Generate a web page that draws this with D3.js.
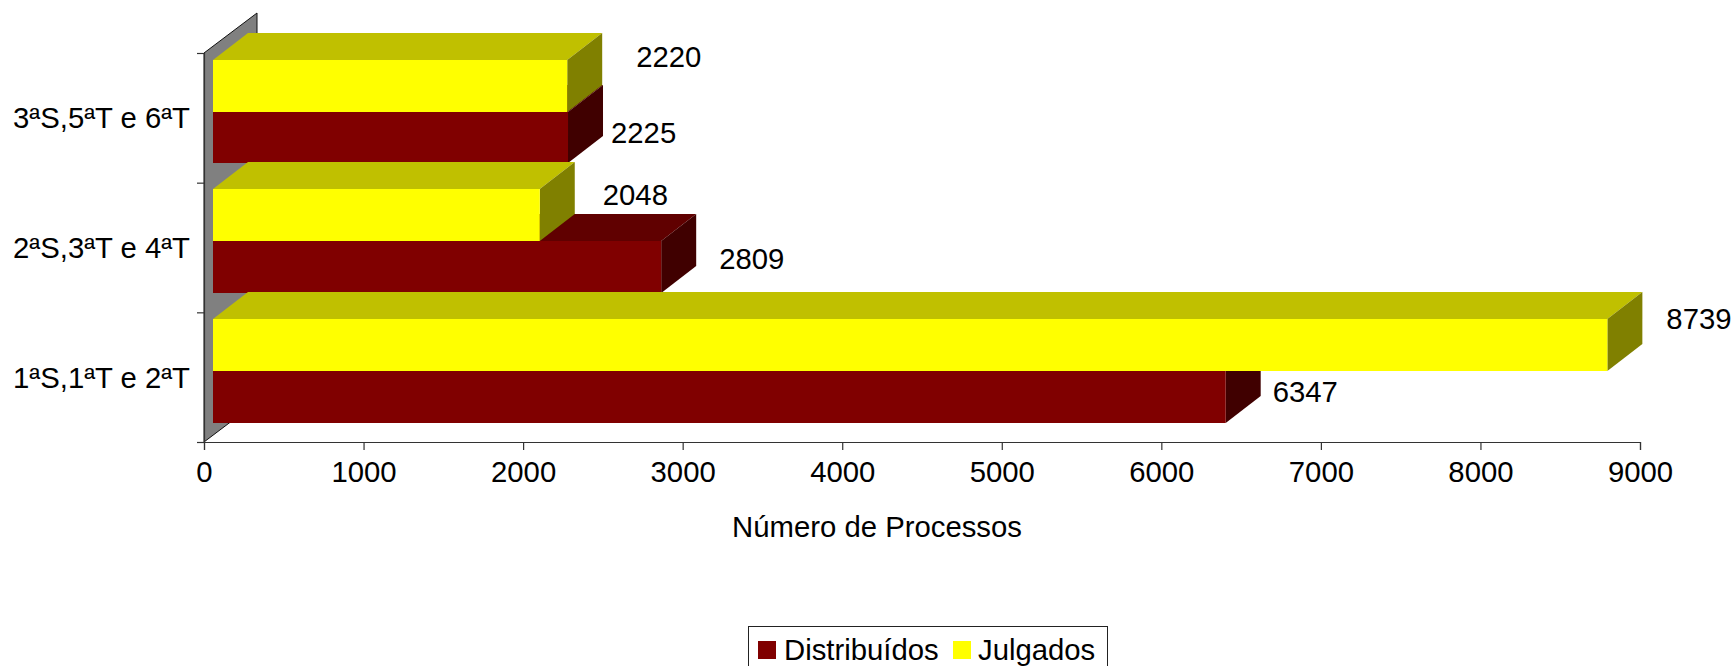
<!DOCTYPE html>
<html>
<head>
<meta charset="utf-8">
<script src="https://cdnjs.cloudflare.com/ajax/libs/d3/7.8.5/d3.min.js"></script>
<style>
  html, body { margin: 0; padding: 0; background: #fff; overflow: hidden; }
  text { font-family: "Liberation Sans", Arial, sans-serif; fill: #000; }
</style>
</head>
<body>
<div id="chart"></div>
<script>
// bottom to top, same as the picture
var categories = ["1ªS,1ªT e 2ªT", "2ªS,3ªT e 4ªT", "3ªS,5ªT e 6ªT"];
var seriesNames = ["Distribuídos", "Julgados"];
var distribuidos = [6347, 2809, 2225];
var julgados = [8739, 2048, 2220];
var xTicks = [0, 1000, 2000, 3000, 4000, 5000, 6000, 7000, 8000, 9000];

// the data labels are hand placed in the original, offsets from the bar end
var labelNudge = {
  "Distribuídos": [[47, -5], [58, -8], [43, -5]],
  "Julgados": [[59, -26], [63, -21], [69, -29]]
};

var colors = {
  "Distribuídos": { front: "#800000", top: "#600000", side: "#400000" },
  "Julgados": { front: "#ffff00", top: "#c0c000", side: "#808000" }
};

var width = 1733, height = 666, fontSize = "29.3px";
var x0 = 204, x1 = 1640, yBase = 442, yTop = 53;
var wallDx = 53, wallDy = -40;   // full depth of the side wall
var floorDx = 9, floorDy = -6.3; // bars sit this far in from the wall
var barDx = 35, barDy = -27;     // depth of one bar

var svg = d3.select("#chart").append("svg")
  .attr("width", width)
  .attr("height", height)
  .style("display", "block");

var x = d3.scaleLinear().domain([0, 9000]).range([x0, x1]);
var yEdge = d3.scaleLinear().domain([0, categories.length]).range([yBase, yTop]);
var yCat = d3.scaleBand().domain(categories).range([yBase, yTop])
  .paddingInner(0.2).paddingOuter(0.1);
// Julgados sits above Distribuídos inside each group
var ySeries = d3.scaleBand().domain(["Julgados", "Distribuídos"]).range([0, yCat.bandwidth()]);

function poly(points) {
  return d3.line()(points) + "Z";
}

// side wall
svg.append("path")
  .attr("d", poly([[x0, yBase], [x0, yTop], [x0 + wallDx, yTop + wallDy], [x0 + wallDx, yBase + wallDy]]))
  .attr("fill", "#808080")
  .attr("stroke", "#111")
  .attr("stroke-width", 1);

// axes
var bottomAxis = svg.append("g")
  .attr("transform", "translate(0," + yBase + ")")
  .call(d3.axisBottom(x).tickValues(xTicks).tickSize(8).tickPadding(11).tickFormat(d3.format("d")));
bottomAxis.selectAll("text").style("font-size", fontSize);

svg.append("g")
  .attr("transform", "translate(" + x0 + ",0)")
  .call(d3.axisLeft(yEdge).tickValues(d3.range(categories.length + 1)).tickSize(7).tickFormat(""));

var leftAxis = svg.append("g")
  .attr("transform", "translate(" + x0 + ",1)")
  .call(d3.axisLeft(yCat).tickSize(0).tickPadding(14));
leftAxis.select(".domain").remove();
leftAxis.selectAll("text").style("font-size", fontSize);

svg.selectAll(".domain, .tick line").attr("stroke", "#333").attr("stroke-width", 1.2);

// bars, top group first so lower groups paint over it
var order = d3.range(categories.length).reverse();
order.forEach(function(i) {
  seriesNames.forEach(function(name) {
    var value = name == "Julgados" ? julgados[i] : distribuidos[i];
    var left = x(0) + floorDx;
    var right = x(value) + floorDx;
    var top = Math.round(yCat(categories[i]) + ySeries(name) + floorDy);
    var bottom = Math.round(yCat(categories[i]) + ySeries(name) + floorDy + ySeries.bandwidth());
    var c = colors[name];
    var g = svg.append("g").attr("class", "bar");

    g.append("path")
      .attr("d", poly([[left, top], [left + barDx, top + barDy], [right + barDx, top + barDy], [right, top]]))
      .attr("fill", c.top);
    g.append("path")
      .attr("d", poly([[right, top], [right + barDx, top + barDy], [right + barDx, bottom + barDy], [right, bottom]]))
      .attr("fill", c.side);
    g.append("rect")
      .attr("x", left)
      .attr("y", top)
      .attr("width", right - left)
      .attr("height", bottom - top)
      .attr("fill", c.front);
  });
});

// data labels
seriesNames.forEach(function(name) {
  categories.forEach(function(cat, i) {
    var value = name == "Julgados" ? julgados[i] : distribuidos[i];
    var top = yCat(cat) + ySeries(name) + floorDy;
    var nudge = labelNudge[name][i];
    svg.append("text")
      .attr("x", x(value) + floorDx + nudge[0])
      .attr("y", top + ySeries.bandwidth() / 2 + nudge[1])
      .attr("dy", "0.35em")
      .style("font-size", fontSize)
      .text(value);
  });
});

// axis title
svg.append("text")
  .attr("x", 877)
  .attr("y", 537)
  .attr("text-anchor", "middle")
  .style("font-size", fontSize)
  .text("Número de Processos");

// legend, the box runs off the bottom of the picture
var legend = svg.append("g");
legend.append("rect")
  .attr("x", 748.5)
  .attr("y", 626.5)
  .attr("width", 359)
  .attr("height", 60)
  .attr("fill", "#fff")
  .attr("stroke", "#222")
  .attr("stroke-width", 1);

var legendX = [758, 953];
var legendTextX = [784, 978];
seriesNames.forEach(function(name, i) {
  legend.append("rect")
    .attr("x", legendX[i])
    .attr("y", 641)
    .attr("width", 18)
    .attr("height", 18)
    .attr("fill", colors[name].front);
  legend.append("text")
    .attr("x", legendTextX[i])
    .attr("y", 660)
    .style("font-size", fontSize)
    .text(name);
});
</script>
</body>
</html>
